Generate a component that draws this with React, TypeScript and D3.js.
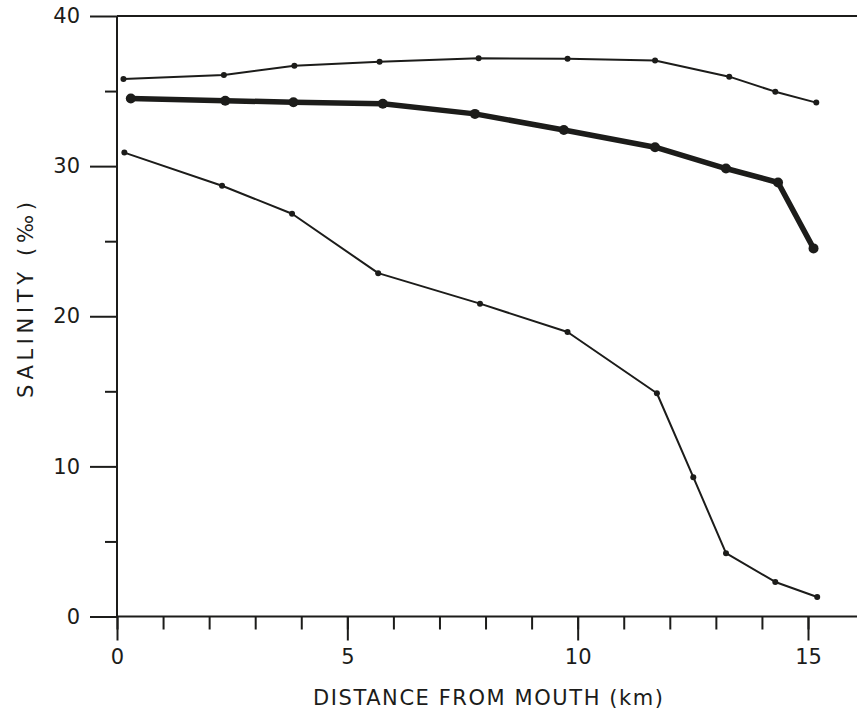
import React, { useEffect, useRef } from 'react';
import * as d3 from 'd3';

// distance from mouth (km) and salinity (‰)
const surfaceKm = [0.16, 2.28, 3.8, 5.67, 7.88, 9.78, 11.72, 12.51, 13.22, 14.29, 15.2];
const surfaceSal = [30.9, 28.69, 26.83, 22.87, 20.84, 18.95, 14.87, 9.28, 4.22, 2.3, 1.3];

const bottomKm = [0.14, 2.32, 3.85, 5.7, 7.85, 9.78, 11.68, 13.29, 14.29, 15.18];
const bottomSal = [35.81, 36.07, 36.69, 36.96, 37.18, 37.16, 37.03, 35.96, 34.96, 34.23];

const midKm = [0.3, 2.35, 3.83, 5.77, 7.77, 9.7, 11.68, 13.22, 14.35, 15.12];
const midSal = [34.5, 34.36, 34.25, 34.15, 33.48, 32.41, 31.26, 29.84, 28.91, 24.52];

const xMajor = [0, 5, 10, 15];
const xMinor = d3.range(0, 16);
const yMajor = [0, 10, 20, 30, 40];
const yMinor = [5, 15, 25, 35];

const W = 857;
const H = 711;
const ink = '#1c1c1a';
const font = '"DejaVu Sans", sans-serif';

const App = () => {
  const ref = useRef<SVGSVGElement>(null);

  useEffect(() => {
    const svg = d3.select(ref.current);
    svg.selectAll('*').remove();

    const x = d3.scaleLinear().domain([0, 15]).range([117, 808]);
    const y = d3.scaleLinear().domain([0, 40]).range([616.5, 16]);

    const styleAxis = (g: any) => {
      g.selectAll('path').remove();
      g.selectAll('line').attr('stroke', ink).attr('stroke-width', 2);
      g.selectAll('text')
        .attr('fill', ink)
        .style('font-family', font)
        .style('font-size', '21px');
    };

    // frame lines
    svg.append('line')
      .attr('x1', x(0)).attr('x2', W)
      .attr('y1', y(0)).attr('y2', y(0))
      .attr('stroke', ink).attr('stroke-width', 2);
    svg.append('line')
      .attr('x1', x(0)).attr('x2', W)
      .attr('y1', y(40)).attr('y2', y(40))
      .attr('stroke', ink).attr('stroke-width', 2);
    svg.append('line')
      .attr('x1', x(0)).attr('x2', x(0))
      .attr('y1', y(0)).attr('y2', y(40))
      .attr('stroke', ink).attr('stroke-width', 2);

    // x axis: minor and major ticks
    svg.append('g')
      .attr('transform', `translate(0, ${y(0)})`)
      .call(d3.axisBottom(x).tickValues(xMinor).tickSize(13).tickFormat(() => ''))
      .call(styleAxis);
    svg.append('g')
      .attr('transform', `translate(0, ${y(0)})`)
      .call(d3.axisBottom(x).tickValues(xMajor).tickSize(24).tickPadding(9).tickFormat(d3.format('d')))
      .call(styleAxis);

    // y axis
    svg.append('g')
      .attr('transform', `translate(${x(0)}, 0)`)
      .call(d3.axisLeft(y).tickValues(yMinor).tickSize(12).tickFormat(() => ''))
      .call(styleAxis);
    svg.append('g')
      .attr('transform', `translate(${x(0)}, 0)`)
      .call(d3.axisLeft(y).tickValues(yMajor).tickSize(27).tickPadding(10).tickFormat(d3.format('d')))
      .call(styleAxis);

    // axis titles
    svg.append('text')
      .attr('x', 488).attr('y', 705)
      .attr('text-anchor', 'middle')
      .attr('textLength', 350)
      .attr('lengthAdjust', 'spacing')
      .attr('fill', ink)
      .style('font-family', font)
      .style('font-size', '21px')
      .text('DISTANCE FROM MOUTH (km)');

    svg.append('text')
      .attr('transform', 'translate(33, 300) rotate(-90)')
      .attr('text-anchor', 'middle')
      .attr('textLength', 196)
      .attr('lengthAdjust', 'spacing')
      .attr('fill', ink)
      .style('font-family', font)
      .style('font-size', '21px')
      .text('SALINITY (‰)');

    const series = [
      { km: bottomKm, sal: bottomSal, w: 2, r: 3 },
      { km: midKm, sal: midSal, w: 5.5, r: 5 },
      { km: surfaceKm, sal: surfaceSal, w: 2, r: 3 },
    ];

    const line = d3.line<[number, number]>()
      .x(d => x(d[0]))
      .y(d => y(d[1]));

    series.forEach(s => {
      const pts = s.km.map((k, i) => [k, s.sal[i]] as [number, number]);
      svg.append('path')
        .attr('d', line(pts))
        .attr('fill', 'none')
        .attr('stroke', ink)
        .attr('stroke-width', s.w)
        .attr('stroke-linejoin', 'round');
      svg.selectAll(null)
        .data(pts)
        .enter().append('circle')
        .attr('cx', d => x(d[0]))
        .attr('cy', d => y(d[1]))
        .attr('r', s.r)
        .attr('fill', ink);
    });
  }, []);

  return (
    <div style={{ position: 'absolute', left: 0, top: 0 }}>
      <svg ref={ref} width={W} height={H} style={{ display: 'block', background: '#fff' }}></svg>
    </div>
  );
};

export default App;
